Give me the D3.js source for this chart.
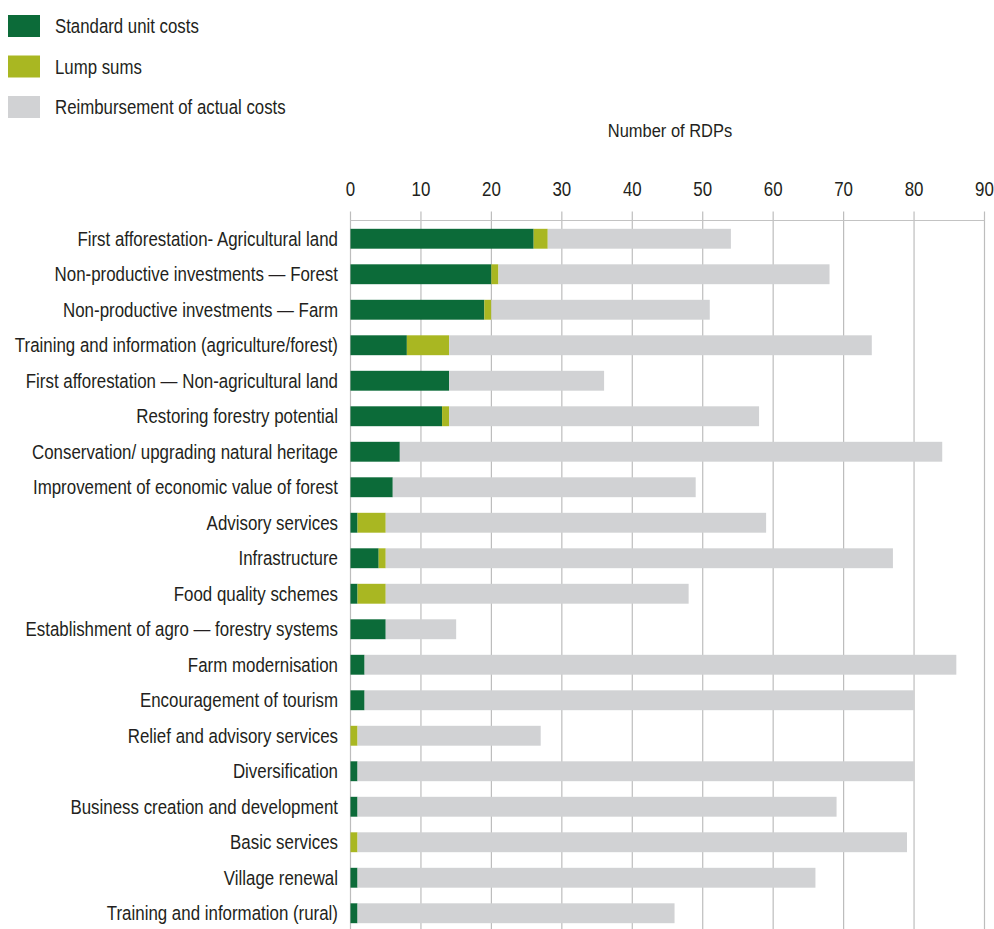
<!DOCTYPE html>
<html>
<head>
<meta charset="utf-8">
<script src="https://cdn.jsdelivr.net/npm/d3@7"></script>
<style>
  html, body { margin: 0; padding: 0; background: #fff; }
  svg text { font-family: "Liberation Sans", Arial, sans-serif; fill: #231f20; }
</style>
</head>
<body>
<svg id="chart" width="994" height="929"></svg>
<script>
const categories = [
  "First afforestation- Agricultural land",
  "Non-productive investments \u2014 Forest",
  "Non-productive investments \u2014 Farm",
  "Training and information (agriculture/forest)",
  "First afforestation \u2014 Non-agricultural land",
  "Restoring forestry potential",
  "Conservation/ upgrading natural heritage",
  "Improvement of economic value of forest",
  "Advisory services",
  "Infrastructure",
  "Food quality schemes",
  "Establishment of agro \u2014 forestry systems",
  "Farm modernisation",
  "Encouragement of tourism",
  "Relief and advisory services",
  "Diversification",
  "Business creation and development",
  "Basic services",
  "Village renewal",
  "Training and information (rural)"
];
const standardUnitCosts = [26, 20, 19, 8, 14, 13, 7, 6, 1, 4, 1, 5, 2, 2, 0, 1, 1, 0, 1, 1];
const lumpSums          = [2, 1, 1, 6, 0, 1, 0, 0, 4, 1, 4, 0, 0, 0, 1, 0, 0, 1, 0, 0];
const reimbursement     = [26, 47, 31, 60, 22, 44, 77, 43, 54, 72, 43, 10, 84, 78, 26, 79, 68, 78, 65, 45];
const seriesNames = ["Standard unit costs", "Lump sums", "Reimbursement of actual costs"];
const seriesKeys = ["suc", "lump", "reimb"];
const seriesColors = ["#0c6b39", "#a9b722", "#d1d2d4"];
const xTicks = [0, 10, 20, 30, 40, 50, 60, 70, 80, 90];
const axisTitle = "Number of RDPs";

const FS = 19.5;
const svg = d3.select("#chart");
const x = d3.scaleLinear().domain([0, 90]).range([350.5, 984.5]);
const y = d3.scaleBand().domain(categories).range([221, 931]).paddingInner(0.44).paddingOuter(0.22);

const rows = categories.map((c, i) => ({ cat: c, suc: standardUnitCosts[i], lump: lumpSums[i], reimb: reimbursement[i] }));
const stacked = d3.stack().keys(seriesKeys)(rows);
const color = d3.scaleOrdinal().domain(seriesKeys).range(seriesColors);

// horizontal condensing factor (approximates the condensed face of the original)
function measure(str, fs) {
  const p = svg.append("text").attr("font-size", fs).text(str);
  const w = p.node().getComputedTextLength();
  p.remove();
  return w;
}
const refIdx = [0, 3, 6, 16];
const refW = [263, 330, 305, 260];
const K = d3.sum(refW) / d3.sum(refIdx.map(i => measure(categories[i], FS)));
const KL = 225 / measure(seriesNames[2], 19);

function ctext(parent, tx, ty, anchor, str, fs, k) {
  return parent.append("text")
    .attr("transform", `translate(${tx},${ty}) scale(${k || K},1)`)
    .attr("text-anchor", anchor).attr("font-size", fs || FS).text(str);
}

// gridlines (ticks extend above the axis line)
svg.append("g").selectAll("line").data(xTicks).join("line")
  .attr("x1", d => x(d)).attr("x2", d => x(d))
  .attr("y1", 211.5).attr("y2", 929)
  .attr("stroke", "#bdbdbd").attr("stroke-width", 1.2);

// horizontal axis line
svg.append("line").attr("x1", x(0)).attr("x2", x(90)).attr("y1", 220.5).attr("y2", 220.5)
  .attr("stroke", "#c3c3c3").attr("stroke-width", 1.2);

// tick labels
const tg = svg.append("g");
xTicks.forEach(t => ctext(tg, x(t), 196, "middle", t, 19.5));

// axis title
ctext(svg, 670, 137, "middle", axisTitle, 19);

// bars
svg.append("g").selectAll("g").data(stacked).join("g")
  .attr("fill", d => color(d.key))
  .selectAll("rect").data(d => d).join("rect")
  .attr("x", d => x(d[0]))
  .attr("width", d => Math.max(0, x(d[1]) - x(d[0])))
  .attr("y", d => y(d.data.cat))
  .attr("height", y.bandwidth());

// category labels
const lg = svg.append("g");
categories.forEach(c => ctext(lg, 338, y(c) + y.bandwidth() / 2 + 6.8, "end", c));

// legend
const legend = svg.append("g");
seriesNames.forEach((n, i) => {
  const g = legend.append("g").attr("transform", `translate(8, ${15 + i * 40.5})`);
  g.append("rect").attr("width", 32).attr("height", 22).attr("fill", seriesColors[i]);
  ctext(g, 47, 18, "start", n, 19.5, KL);
});
</script>
</body>
</html>
